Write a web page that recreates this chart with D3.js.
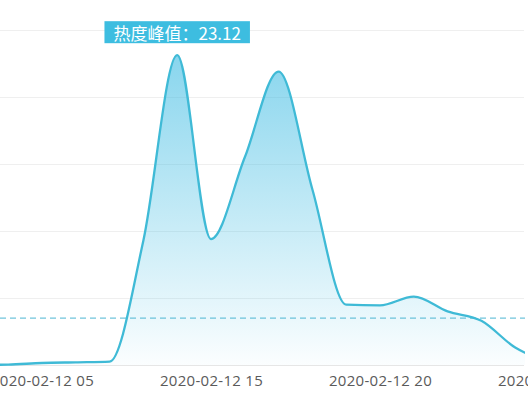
<!DOCTYPE html>
<html>
<head>
<meta charset="utf-8">
<script src="https://cdn.jsdelivr.net/npm/d3@7/dist/d3.min.js"></script>
<style>
  html, body { margin: 0; padding: 0; background: #fff; overflow: hidden; }
  svg { display: block; }
</style>
</head>
<body>
<svg id="chart" width="528" height="397"></svg>
<script>
// hourly heat series (the left part of the original chart is cut off)
var categories = [
  '2020-02-12 03', '2020-02-12 04', '2020-02-12 05', '2020-02-12 11', '2020-02-12 12',
  '2020-02-12 13', '2020-02-12 14', '2020-02-12 15', '2020-02-12 16', '2020-02-12 17',
  '2020-02-12 18', '2020-02-12 19', '2020-02-12 20', '2020-02-12 21', '2020-02-12 22',
  '2020-02-12 23', '2020-02-13 00', '2020-02-13 01'
];
var heatValues = [
  0.0, 0.03, 0.15, 0.2, 0.25,
  9.3, 23.12, 9.4, 15.5, 21.9,
  13.1, 4.5, 4.45, 5.1, 4.0,
  3.3, 1.3, 0.2
];
var tickLabels = ['2020-02-12 05', '2020-02-12 15', '2020-02-12 20', '2020-02-13 01'];
var yTicks = [0, 5, 10, 15, 20, 25];
var avgValue = 3.5;
var peakLabel = '热度峰值：';

(function (d3) {
  var svg = d3.select('#chart');

  var plotRight = 525;
  var step = 33.8;
  var firstTickX = 42;

  /* ============ SCALES ============ */
  var x = d3.scalePoint()
    .domain(categories)
    .range([firstTickX - 2 * step, firstTickX + (categories.length - 3) * step]);

  var y = d3.scaleLinear()
    .domain([0, 25])
    .range([365, 30]);

  var peakIndex = d3.maxIndex(heatValues);
  var peakValue = heatValues[peakIndex];

  var defs = svg.append('defs');
  var grad = defs.append('linearGradient')
    .attr('id', 'heatFill')
    .attr('gradientUnits', 'userSpaceOnUse')
    .attr('x1', 0).attr('x2', 0)
    .attr('y1', y(peakValue)).attr('y2', y(0));
  grad.append('stop').attr('offset', 0).attr('stop-color', 'rgb(58,186,226)').attr('stop-opacity', 0.6);
  grad.append('stop').attr('offset', 1).attr('stop-color', 'rgb(58,186,226)').attr('stop-opacity', 0.02);

  defs.append('clipPath').attr('id', 'plotClip')
    .append('rect')
    .attr('x', 0).attr('y', 0)
    .attr('width', plotRight).attr('height', 397);

  /* ============ GRID ============ */
  svg.append('g')
    .selectAll('line')
    .data(yTicks)
    .join('line')
    .attr('x1', 0)
    .attr('x2', plotRight - 1)
    .attr('y1', function (d) { return Math.round(y(d)) + 0.5; })
    .attr('y2', function (d) { return Math.round(y(d)) + 0.5; })
    .attr('stroke', function (d) { return d === 0 ? '#e6e6e6' : '#efefef'; })
    .attr('stroke-width', 1);

  /* ============ SERIES ============ */
  var plot = svg.append('g').attr('clip-path', 'url(#plotClip)');

  var area = d3.area()
    .x(function (d, i) { return x(categories[i]); })
    .y0(y(0))
    .y1(function (d) { return y(d); })
    .curve(d3.curveMonotoneX);

  var line = d3.line()
    .x(function (d, i) { return x(categories[i]); })
    .y(function (d) { return y(d); })
    .curve(d3.curveMonotoneX);

  plot.append('path')
    .datum(heatValues)
    .attr('fill', 'url(#heatFill)')
    .attr('d', area);

  // average mark line
  plot.append('line')
    .attr('x1', 0)
    .attr('x2', plotRight)
    .attr('y1', y(avgValue))
    .attr('y2', y(avgValue))
    .attr('stroke', '#4cb6d2')
    .attr('stroke-width', 1)
    .attr('stroke-dasharray', '6,4');

  plot.append('path')
    .datum(heatValues)
    .attr('fill', 'none')
    .attr('stroke', '#3fbad6')
    .attr('stroke-width', 2.3)
    .attr('d', line);

  /* ============ X AXIS ============ */
  var xAxis = d3.axisBottom(x)
    .tickValues(tickLabels)
    .tickSize(0)
    .tickPadding(10);

  var gx = svg.append('g')
    .attr('transform', 'translate(0,' + y(0) + ')')
    .call(xAxis);
  gx.select('.domain').remove();
  gx.selectAll('text')
    .attr('font-family', '"Open Sans", sans-serif')
    .attr('font-size', 15)
    .attr('letter-spacing', 0.3)
    .attr('fill', '#5a5a5a');

  /* ============ PEAK LABEL ============ */
  var px = x(categories[peakIndex]);
  var py = y(peakValue);
  var label = svg.append('g');
  var box = label.append('rect')
    .attr('fill', '#3dbde0');
  var txt = label.append('text')
    .attr('x', px)
    .attr('y', py - 15.5)
    .attr('text-anchor', 'middle')
    .attr('font-family', '"Noto Sans CJK SC", sans-serif')
    .attr('font-size', 17)
    .attr('fill', '#fff')
    .text(peakLabel + peakValue.toFixed(2));
  var w = txt.node().getComputedTextLength() + 18;
  box.attr('x', px - w / 2)
    .attr('y', py - 34)
    .attr('width', w)
    .attr('height', 22);
}(window.d3));
</script>
</body>
</html>
